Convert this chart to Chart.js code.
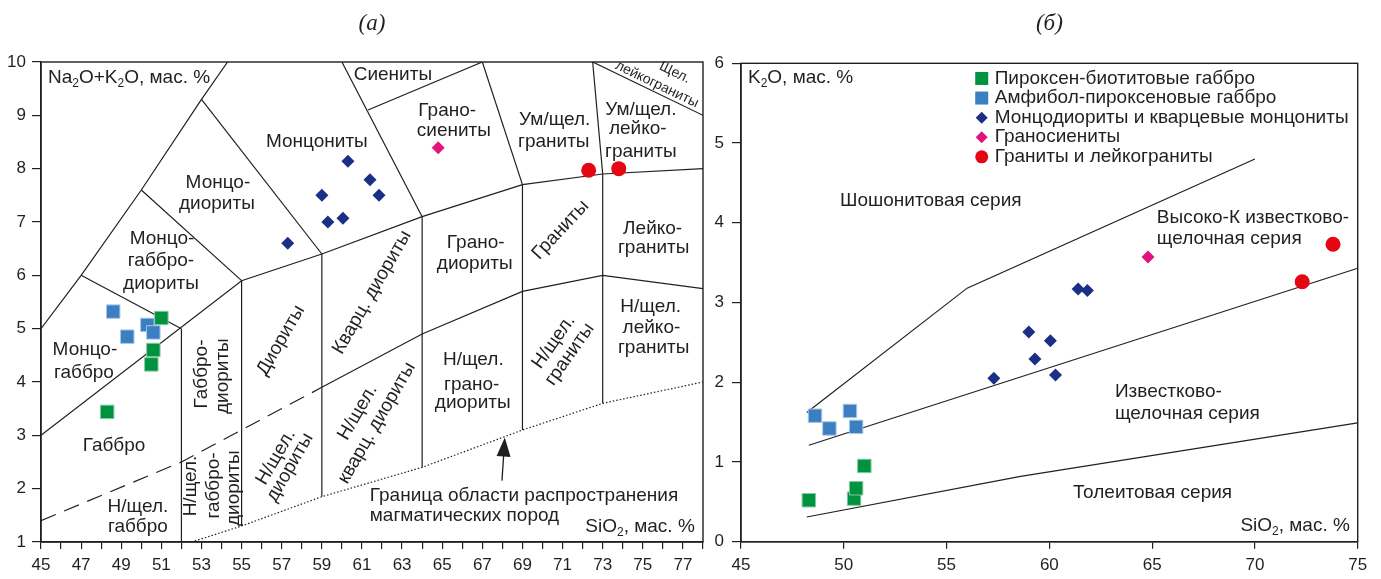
<!doctype html>
<html lang="ru">
<head>
<meta charset="utf-8">
<title>TAS и K2O–SiO2</title>
<script src="https://cdn.jsdelivr.net/npm/chart.js"></script>
<style>
  * { margin: 0; padding: 0; }
  body { width: 1381px; height: 579px; background: #fff; position: relative; overflow: hidden; }
  canvas { position: absolute; top: 0; }
  #tas { left: 0; }
  #k2o { left: 708px; }
</style>
</head>
<body>
<canvas id="tas" width="708" height="579"></canvas>
<canvas id="k2o" width="673" height="579"></canvas>
<script>
const INK = '#231f20';
const FONT = '"Liberation Sans", Arial, sans-serif';

// --- образцы: SiO2, Na2O+K2O, K2O (мас. %) ---
const gbSio2 = [48.3, 50.5, 50.6, 51.0];          // пироксен-биотитовые габбро
const gbAlk = [3.44, 4.33, 4.6, 5.2];
const gbK2o = [0.52, 0.54, 0.67, 0.95];

const agSio2 = [48.6, 49.3, 50.3, 50.6];          // амфибол-пироксеновые габбро
const agAlk = [5.32, 4.85, 5.07, 4.93];
const agK2o = [1.58, 1.42, 1.64, 1.44];

const mzSio2 = [57.3, 59.0, 59.3, 60.05, 60.3, 61.4, 61.85];   // монцодиориты и кв. монцониты
const mzAlk = [6.6, 7.5, 7.0, 7.07, 8.14, 7.79, 7.5];
const mzK2o = [2.05, 2.63, 2.29, 2.52, 2.09, 3.17, 3.15];

const gsSio2 = [64.8];                             // граносиениты
const gsAlk = [8.39];
const gsK2o = [3.57];

const grSio2 = [72.3, 73.8];                       // граниты и лейкограниты
const grAlk = [7.97, 8.0];
const grK2o = [3.26, 3.73];

const groupNames = ['Пироксен-биотитовые габбро', 'Амфибол-пироксеновые габбро',
  'Монцодиориты и кварцевые монцониты', 'Граносиениты', 'Граниты и лейкограниты'];

// tick labels
const tasXLabels = [45, 47, 49, 51, 53, 55, 57, 59, 61, 63, 65, 67, 69, 71, 73, 75, 77];
const tasYLabels = [1, 2, 3, 4, 5, 6, 7, 8, 9, 10];
const k2oXLabels = [45, 50, 55, 60, 65, 70, 75];
const k2oYLabels = [0, 1, 2, 3, 4, 5, 6];

// --- границы полей TAS (SiO2, Na2O+K2O) ---
const tasSolid = [
  [[45, 5], [47, 6], [50, 7.6], [53, 9.3], [54.3, 10]],
  [[47, 6], [52, 5]],
  [[50, 7.6], [55, 5.9]],
  [[53, 9.3], [59, 6.4]],
  [[45, 3], [55, 5.9], [59, 6.4], [64, 7.1], [69, 7.7], [73, 7.9], [78, 8.0]],
  [[52, 5], [52, 1]],
  [[55, 5.9], [55, 1.3]],
  [[59, 6.4], [59, 1.85]],
  [[64, 7.1], [64, 2.4]],
  [[69, 7.7], [69, 3.1]],
  [[72.5, 10], [73, 7.9], [73, 3.6]],
  [[60, 10], [64, 7.1]],
  [[61.3, 9.1], [67, 10]],
  [[67, 10], [69, 7.7]],
  [[72.5, 10], [78, 9.0]],
  [[59, 3.9], [64, 4.9], [69, 5.7], [73, 6.0], [78, 5.75]]
];
const tasDashed = [[45, 1.4], [52, 2.5], [55, 3.1], [59, 3.9]];
const tasDotted = [[52.5, 1], [55, 1.3], [59, 1.85], [64, 2.4], [69, 3.1], [73, 3.6], [78, 4.0]];

// --- границы серий K2O–SiO2 ---
const k2oLines = [
  [[48.2, 1.62], [56, 3.18], [70, 4.8]],
  [[48.3, 1.21], [75, 3.43]],
  [[48.2, 0.31], [58.6, 0.82], [75, 1.49]]
];

const pts = (xs, ys) => xs.map((x, i) => ({ x, y: ys[i] }));
const path = arr => arr.map(([x, y]) => ({ x, y }));

const styles = [
  { pointStyle: 'rect', pointRadius: 9.5, backgroundColor: '#00923f', borderColor: '#86caa0', borderWidth: 1 },
  { pointStyle: 'rect', pointRadius: 9.5, backgroundColor: '#3b7fc2', borderColor: '#a8c7e6', borderWidth: 1 },
  { pointStyle: 'rectRot', pointRadius: 6.5, backgroundColor: '#1b2f86', borderColor: '#1b2f86', borderWidth: 0 },
  { pointStyle: 'rectRot', pointRadius: 6.5, backgroundColor: '#e2137e', borderColor: '#e2137e', borderWidth: 0 },
  { pointStyle: 'circle', pointRadius: 7.5, backgroundColor: '#e30613', borderColor: '#e30613', borderWidth: 0 }
];

function sampleSets(ys) {
  const xs = [gbSio2, agSio2, mzSio2, gsSio2, grSio2];
  return ys.map((y, i) => Object.assign({ label: groupNames[i], data: pts(xs[i], y), order: 1 }, styles[i]));
}

function lineSet(arr, dash) {
  return { data: path(arr), showLine: true, pointRadius: 0, borderColor: INK, borderWidth: 1.2,
    borderDash: dash || [], order: 2, fill: false };
}

function drawLabel(ctx, l, px, py) {
  const size = l.size || 19;
  const parts = Array.isArray(l.t) ? l.t : [l.t];
  const fonts = parts.map((p, i) => (i % 2 ? Math.round(size * 0.62) : size) + 'px ' + FONT);
  let w = 0;
  const ws = parts.map((p, i) => { ctx.font = fonts[i]; const m = ctx.measureText(p).width; w += m; return m; });
  ctx.save();
  ctx.translate(px, py);
  if (l.rot) ctx.rotate(l.rot * Math.PI / 180);
  let x0 = l.align === 'left' ? 0 : l.align === 'right' ? -w : -w / 2;
  ctx.textAlign = 'left';
  ctx.textBaseline = 'middle';
  parts.forEach((p, i) => { ctx.font = fonts[i]; ctx.fillText(p, x0, i % 2 ? size * 0.3 : 0); x0 += ws[i]; });
  ctx.restore();
}

const notes = {
  id: 'notes',
  afterDraw(chart, args, o) {
    const { ctx, chartArea: a, scales: { x, y } } = chart;
    ctx.save();
    ctx.strokeStyle = INK;
    ctx.lineWidth = 1.4;
    ctx.strokeRect(a.left, a.top, a.right - a.left, a.bottom - a.top);
    ctx.fillStyle = INK;
    ctx.font = 'italic 23px "Liberation Serif", serif';
    ctx.textAlign = 'center';
    ctx.textBaseline = 'middle';
    ctx.fillText(o.title, (a.left + a.right) / 2, 24);
    o.labels.forEach(l => drawLabel(ctx, l, x.getPixelForValue(l.x), y.getPixelForValue(l.y)));
    if (o.arrow) {
      const x0 = x.getPixelForValue(o.arrow[0][0]), y0 = y.getPixelForValue(o.arrow[0][1]);
      const x1 = x.getPixelForValue(o.arrow[1][0]), y1 = y.getPixelForValue(o.arrow[1][1]);
      const ang = Math.atan2(y1 - y0, x1 - x0);
      ctx.lineWidth = 1.3;
      ctx.beginPath(); ctx.moveTo(x0, y0); ctx.lineTo(x1 - 14 * Math.cos(ang), y1 - 14 * Math.sin(ang)); ctx.stroke();
      ctx.translate(x1, y1); ctx.rotate(ang);
      ctx.beginPath(); ctx.moveTo(0, 0); ctx.lineTo(-19, -7); ctx.lineTo(-19, 7); ctx.closePath(); ctx.fill();
      ctx.setTransform(1, 0, 0, 1, 0, 0);
    }
    if (o.legend) {
      const lx = x.getPixelForValue(o.legend.x);
      let ly = y.getPixelForValue(o.legend.y);
      chart.data.datasets.filter(d => d.label).forEach(d => {
        ctx.fillStyle = d.backgroundColor;
        ctx.beginPath();
        if (d.pointStyle === 'rect') ctx.rect(lx - 6.5, ly - 6.5, 13, 13);
        else if (d.pointStyle === 'rectRot') { ctx.moveTo(lx, ly - 6); ctx.lineTo(lx + 6, ly); ctx.lineTo(lx, ly + 6); ctx.lineTo(lx - 6, ly); }
        else ctx.arc(lx, ly, 6.5, 0, Math.PI * 2);
        ctx.fill();
        ctx.fillStyle = INK;
        ctx.font = '19px ' + FONT;
        ctx.textAlign = 'left';
        ctx.fillText(d.label, lx + 13, ly);
        ly += o.legend.step;
      });
    }
    ctx.restore();
  }
};

function axes(xmin, xmax, xstep, xlab, ymin, ymax, ylab, yw, xh, ypad) {
  const tickFont = { family: FONT, size: 17 };
  return {
    x: { type: 'linear', min: xmin, max: xmax,
      afterFit: s => { s.height = xh; s.paddingLeft = 0; s.paddingRight = 0; },
      ticks: { stepSize: xstep, autoSkip: false, maxRotation: 0, color: INK, font: tickFont, padding: 6,
        callback: v => xlab.includes(v) ? String(v) : '' },
      grid: { drawOnChartArea: false, tickLength: 7, color: INK, lineWidth: 1.2 },
      border: { color: INK, width: 1.4 } },
    y: { type: 'linear', min: ymin, max: ymax,
      afterFit: s => { s.width = yw; },
      ticks: { stepSize: 1, autoSkip: false, color: INK, font: tickFont, padding: ypad,
        callback: v => ylab.includes(v) ? String(v) : '' },
      grid: { drawOnChartArea: false, tickLength: 9, color: INK, lineWidth: 1.2 },
      border: { color: INK, width: 1.4 } }
  };
}

const tasLabels = [
  { t: ['Na', '2', 'O+K', '2', 'O, мас. %'], x: 45.35, y: 9.7, align: 'left' },
  { t: 'Сиениты', x: 62.54, y: 9.76 },
  { t: 'Грано-', x: 65.25, y: 9.08 }, { t: 'сиениты', x: 65.58, y: 8.71 },
  { t: 'Монцониты', x: 58.75, y: 8.5 },
  { t: 'Монцо-', x: 53.82, y: 7.73 }, { t: 'диориты', x: 53.77, y: 7.35 },
  { t: 'Монцо-', x: 51.03, y: 6.68 }, { t: 'габбро-', x: 50.98, y: 6.27 }, { t: 'диориты', x: 50.98, y: 5.85 },
  { t: 'Ум/щел.', x: 70.61, y: 8.91 }, { t: 'граниты', x: 70.56, y: 8.5 },
  { t: 'Ум/щел.', x: 74.9, y: 9.1 }, { t: 'лейко-', x: 74.75, y: 8.75 }, { t: 'граниты', x: 74.9, y: 8.31 },
  { t: 'Щел.', x: 76.59, y: 9.8, rot: 25.7, size: 14 },
  { t: 'лейкограниты', x: 75.7, y: 9.58, rot: 25.7, size: 14 },
  { t: 'Граниты', x: 70.9, y: 6.85, rot: -47 },
  { t: 'Лейко-', x: 75.49, y: 6.87 }, { t: 'граниты', x: 75.54, y: 6.51 },
  { t: 'Грано-', x: 66.67, y: 6.61 }, { t: 'диориты', x: 66.62, y: 6.21 },
  { t: 'Диориты', x: 56.96, y: 4.78, rot: -60 },
  { t: 'Кварц. диориты', x: 61.5, y: 5.68, rot: -60 },
  { t: 'Монцо-', x: 47.19, y: 4.6 }, { t: 'габбро', x: 47.14, y: 4.17 },
  { t: 'Габбро', x: 48.64, y: 2.8 },
  { t: 'Н/щел.', x: 49.83, y: 1.67 }, { t: 'габбро', x: 49.83, y: 1.28 },
  { t: 'Габбро-', x: 53.02, y: 4.15, rot: -90 }, { t: 'диориты', x: 54.07, y: 4.11, rot: -90 },
  { t: 'Н/щел.', x: 52.47, y: 2.05, rot: -90 }, { t: 'габбро-', x: 53.62, y: 2.06, rot: -90 },
  { t: 'диориты', x: 54.62, y: 2.01, rot: -90 },
  { t: 'Н/щел.', x: 56.71, y: 2.59, rot: -60 }, { t: 'диориты', x: 57.41, y: 2.4, rot: -60 },
  { t: 'Н/щел.', x: 60.79, y: 3.43, rot: -60 }, { t: 'кварц. диориты', x: 61.74, y: 3.23, rot: -60 },
  { t: 'Н/щел.', x: 66.55, y: 4.41 }, { t: 'грано-', x: 66.47, y: 3.94 }, { t: 'диориты', x: 66.52, y: 3.62 },
  { t: 'Н/щел.', x: 70.56, y: 4.75, rot: -55 }, { t: 'граниты', x: 71.36, y: 4.52, rot: -55 },
  { t: 'Н/щел.', x: 75.39, y: 5.41 }, { t: 'лейко-', x: 75.43, y: 5.01 }, { t: 'граниты', x: 75.54, y: 4.64 },
  { t: 'Граница области распространения', x: 61.39, y: 1.87, align: 'left' },
  { t: 'магматических пород', x: 61.39, y: 1.49, align: 'left' },
  { t: ['SiO', '2', ', мас. %'], x: 77.59, y: 1.28, align: 'right' }
];

const k2oText = [
  { t: ['K', '2', 'O, мас. %'], x: 45.34, y: 5.82, align: 'left' },
  { t: 'Шошонитовая серия', x: 49.82, y: 4.27, align: 'left' },
  { t: 'Высоко-К известково-', x: 65.23, y: 4.06, align: 'left' },
  { t: 'щелочная серия', x: 65.23, y: 3.8, align: 'left' },
  { t: 'Известково-', x: 63.19, y: 1.88, align: 'left' },
  { t: 'щелочная серия', x: 63.19, y: 1.61, align: 'left' },
  { t: 'Толеитовая серия', x: 61.15, y: 0.61, align: 'left' },
  { t: ['SiO', '2', ', мас. %'], x: 74.62, y: 0.2, align: 'right' }
];

const common = { responsive: false, animation: false, events: [],
  plugins: { legend: { display: false }, tooltip: { enabled: false } } };

new Chart(document.getElementById('tas'), {
  type: 'scatter',
  data: { datasets: [
    ...sampleSets([gbAlk, agAlk, mzAlk, gsAlk, grAlk]),
    ...tasSolid.map(l => lineSet(l)),
    lineSet(tasDashed, [16, 9]),
    lineSet(tasDotted, [1.5, 2])
  ] },
  options: Object.assign({}, common, {
    layout: { autoPadding: false, padding: { left: 0, right: 5, top: 62, bottom: 0 } },
    scales: axes(45, 78, 1, tasXLabels, 1, 10, tasYLabels, 41, 37, 6),
    plugins: Object.assign({}, common.plugins, {
      notes: { title: '(а)', labels: tasLabels, arrow: [[67.98, 2.15], [68.12, 2.96]] }
    })
  }),
  plugins: [notes]
});

new Chart(document.getElementById('k2o'), {
  type: 'scatter',
  data: { datasets: [
    ...sampleSets([gbK2o, agK2o, mzK2o, gsK2o, grK2o]),
    ...k2oLines.map(l => lineSet(l))
  ] },
  options: Object.assign({}, common, {
    layout: { autoPadding: false, padding: { left: 0, right: 23.3, top: 63.3, bottom: 0 } },
    scales: axes(45, 75, 5, k2oXLabels, 0, 6, k2oYLabels, 33, 37.3, 8),
    plugins: Object.assign({}, common.plugins, {
      notes: { title: '(б)', labels: k2oText, legend: { x: 56.71, y: 5.81, step: 19.6 } }
    })
  }),
  plugins: [notes]
});
</script>
</body>
</html>
